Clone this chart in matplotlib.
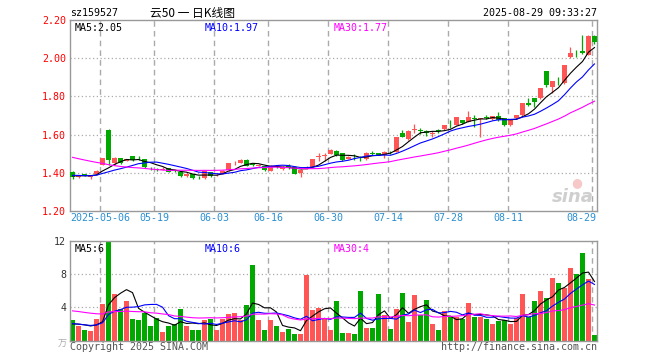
import matplotlib
matplotlib.use('Agg')
import matplotlib.pyplot as plt
import numpy as np

# daily candles 2025-04-24 .. 2025-08-29
open_p = [1.405, 1.380, 1.391, 1.378, 1.392, 1.441, 1.626, 1.450, 1.476, 1.463,
          1.488, 1.479, 1.471, 1.425, 1.418, 1.416, 1.424, 1.412, 1.406, 1.384,
          1.394, 1.378, 1.372, 1.404, 1.386, 1.396, 1.413, 1.449, 1.452, 1.467,
          1.445, 1.438, 1.437, 1.411, 1.431, 1.420, 1.433, 1.432, 1.397, 1.420,
          1.432, 1.482, 1.490, 1.498, 1.516, 1.502, 1.472, 1.484, 1.478, 1.471,
          1.503, 1.503, 1.493, 1.509, 1.510, 1.607, 1.575, 1.626, 1.622, 1.621,
          1.605, 1.621, 1.628, 1.656, 1.650, 1.676, 1.668, 1.686, 1.683, 1.691,
          1.680, 1.700, 1.685, 1.650, 1.685, 1.703, 1.767, 1.790, 1.790, 1.933,
          1.850, 1.878, 1.869, 2.005, 2.022, 2.038, 2.017, 2.118]
high_p = [1.408, 1.390, 1.396, 1.388, 1.415, 1.480, 1.628, 1.485, 1.478, 1.474,
          1.490, 1.487, 1.474, 1.430, 1.423, 1.428, 1.426, 1.416, 1.408, 1.398,
          1.396, 1.382, 1.415, 1.406, 1.394, 1.413, 1.452, 1.462, 1.470, 1.470,
          1.450, 1.446, 1.440, 1.440, 1.434, 1.433, 1.445, 1.434, 1.420, 1.435,
          1.473, 1.503, 1.505, 1.522, 1.518, 1.505, 1.488, 1.497, 1.488, 1.508,
          1.512, 1.506, 1.514, 1.515, 1.590, 1.622, 1.622, 1.656, 1.634, 1.624,
          1.620, 1.628, 1.652, 1.675, 1.692, 1.678, 1.725, 1.702, 1.688, 1.703,
          1.700, 1.718, 1.688, 1.679, 1.705, 1.766, 1.790, 1.792, 1.845, 1.935,
          1.882, 1.900, 1.966, 2.060, 2.045, 2.120, 2.120, 2.120]
low_p = [1.370, 1.375, 1.382, 1.370, 1.388, 1.440, 1.443, 1.440, 1.448, 1.462,
         1.462, 1.468, 1.425, 1.415, 1.410, 1.413, 1.404, 1.404, 1.378, 1.380,
         1.370, 1.370, 1.368, 1.380, 1.382, 1.392, 1.410, 1.440, 1.449, 1.434,
         1.437, 1.434, 1.411, 1.408, 1.424, 1.417, 1.418, 1.392, 1.376, 1.418,
         1.430, 1.462, 1.462, 1.496, 1.490, 1.463, 1.470, 1.465, 1.462, 1.469,
         1.493, 1.492, 1.478, 1.500, 1.508, 1.585, 1.573, 1.610, 1.604, 1.593,
         1.590, 1.610, 1.625, 1.632, 1.648, 1.657, 1.666, 1.640, 1.587, 1.680,
         1.677, 1.672, 1.645, 1.646, 1.680, 1.700, 1.750, 1.745, 1.788, 1.848,
         1.818, 1.858, 1.866, 2.003, 2.005, 2.022, 2.015, 2.074]
close_p = [1.378, 1.385, 1.389, 1.383, 1.412, 1.479, 1.466, 1.480, 1.453, 1.471,
           1.467, 1.477, 1.428, 1.423, 1.416, 1.422, 1.406, 1.410, 1.382, 1.396,
           1.375, 1.376, 1.412, 1.383, 1.391, 1.410, 1.450, 1.451, 1.467, 1.437,
           1.443, 1.441, 1.414, 1.437, 1.429, 1.430, 1.431, 1.395, 1.417, 1.432,
           1.471, 1.486, 1.494, 1.519, 1.493, 1.467, 1.484, 1.482, 1.476, 1.505,
           1.500, 1.494, 1.509, 1.507, 1.589, 1.589, 1.620, 1.630, 1.620, 1.607,
           1.608, 1.619, 1.650, 1.654, 1.690, 1.660, 1.690, 1.684, 1.686, 1.689,
           1.697, 1.676, 1.650, 1.676, 1.702, 1.764, 1.753, 1.772, 1.842, 1.860,
           1.880, 1.874, 1.964, 2.029, 2.020, 2.026, 2.118, 2.086]
volume = [2.52, 1.80, 1.32, 1.20, 2.64, 4.44, 11.92, 5.64, 3.84, 4.80,
          2.64, 2.52, 3.32, 1.72, 2.76, 1.08, 1.72, 1.99, 3.84, 1.72,
          1.32, 1.32, 2.52, 2.64, 1.32, 2.64, 3.24, 3.36, 2.52, 4.32,
          9.12, 2.44, 1.32, 2.52, 1.80, 1.08, 1.44, 0.84, 0.84, 7.92,
          3.72, 3.96, 2.72, 1.32, 4.80, 0.92, 0.92, 0.84, 6.00, 1.56,
          1.56, 5.64, 3.12, 1.44, 3.84, 5.76, 2.28, 5.52, 3.04, 4.92,
          2.04, 1.32, 3.60, 2.84, 2.84, 2.60, 4.56, 2.84, 2.84, 2.64,
          2.04, 2.32, 2.44, 2.04, 2.72, 5.64, 2.84, 4.80, 6.00, 5.16,
          7.56, 6.88, 6.36, 8.76, 8.04, 10.56, 7.44, 0.72]

# sessions before the window, estimated from where the moving averages start
hist_close = [1.60, 1.59, 1.58, 1.59, 1.64, 1.66, 1.64, 1.58, 1.56, 1.55,
              1.53, 1.51, 1.52, 1.50, 1.49, 1.48, 1.37, 1.38, 1.40, 1.39,
              1.39, 1.40, 1.39, 1.38, 1.39, 1.38, 1.39, 1.38, 1.39]
hist_volume = [4.1, 4.5, 3.9, 4.8, 5.3, 4.4, 4.2, 3.8, 3.5, 3.9,
               3.3, 3.7, 5.1, 4.2, 4.0, 3.8, 7.1, 5.5, 4.3, 3.4,
               2.4, 2.2, 1.9, 2.1, 1.8, 2.0, 1.7, 1.9, 2.0]

date_index = [5, 14, 24, 33, 43, 53, 63, 73, 87]
date_labels = ['2025-05-06', '05-19', '06-03', '06-16', '06-30',
               '07-14', '07-28', '08-11', '08-29']

RED = '#FF5555'
GREEN = '#00A800'
MONO = 'DejaVu Sans Mono'
CJK = ['Noto Sans CJK SC', 'DejaVu Sans']


def moving_avg(values, hist, n):
    full = np.array(hist + values, dtype=float)
    ma = np.convolve(full, np.ones(n) / n, mode='valid')
    return ma[-len(values):]


W, H = 660, 360
fig = plt.figure(figsize=(6.6, 3.6), dpi=100)


def px_axes(left, top, right, bottom):
    return fig.add_axes([left / W, 1 - bottom / H, (right - left) / W, (bottom - top) / H])


ax = px_axes(70.3, 20, 596.7, 211)
axv = px_axes(70.3, 240.7, 596.7, 340.7)

x = np.arange(len(close_p))
colors = [RED if c >= o else GREEN for o, c in zip(open_p, close_p)]

for a in (ax, axv):
    a.set_xlim(-0.37, len(x) - 1 + 0.37)
    for s in a.spines.values():
        s.set_color('#999999')
        s.set_linewidth(1)
    a.tick_params(length=0, pad=3)
    a.set_xticks([])
    for d in date_index:
        a.axvline(d - 0.37, color='#AAAAAA', lw=1, ls=(0, (4, 3)), zorder=0)

# price panel
ax.set_ylim(1.2, 2.2)
for lvl in [1.4, 1.6, 1.8, 2.0]:
    ax.axhline(lvl, color='#AAAAAA', lw=0.9, ls=(0, (1, 2)), zorder=0)
ax.set_yticks([1.2, 1.4, 1.6, 1.8, 2.0, 2.2])
ax.set_yticklabels(['%.2f' % v for v in [1.2, 1.4, 1.6, 1.8, 2.0, 2.2]],
                   color='#FF0000', fontsize=7.2, family=MONO)

# watermark
ax.text(0.955, 0.075, 'sina', transform=ax.transAxes, fontsize=13, style='italic',
        fontweight='bold', color='#CFCFCF', ha='center', va='center', zorder=0)
ax.text(0.962, 0.15, '●', transform=ax.transAxes, fontsize=9,
        color='#F6C8C8', ha='center', va='center', zorder=0)

ax.vlines(x, low_p, high_p, colors=colors, lw=0.9, zorder=2)
bottoms = np.minimum(open_p, close_p)
heights = np.maximum(np.abs(np.array(close_p) - np.array(open_p)), 0.003)
ax.bar(x, heights, bottom=bottoms, width=0.8, color=colors, lw=0, zorder=3)

ax.plot(x, moving_avg(close_p, hist_close, 5), color='black', lw=0.8, zorder=4)
ax.plot(x, moving_avg(close_p, hist_close, 10), color='#0000FF', lw=0.8, zorder=4)
ax.plot(x, moving_avg(close_p, hist_close, 30), color='#FF00FF', lw=0.8, zorder=4)

ax.text(0.008, 0.985, 'MA5:2.05', transform=ax.transAxes, color='black',
        fontsize=7.2, family=MONO, va='top')
ax.text(0.256, 0.985, 'MA10:1.97', transform=ax.transAxes, color='#0000FF',
        fontsize=7.2, family=MONO, va='top')
ax.text(0.501, 0.985, 'MA30:1.77', transform=ax.transAxes, color='#FF00FF',
        fontsize=7.2, family=MONO, va='top')

# date labels under the price panel
for d, lab in zip(date_index, date_labels):
    if d == date_index[-1]:
        ax.text(len(x) - 1 + 0.37, 1.2 - 0.035, lab, ha='right', va='center',
                color='#2A8FD0', fontsize=7.2, family=MONO)
    else:
        ax.text(d - 0.37, 1.2 - 0.035, lab, ha='center', va='center',
                color='#2A8FD0', fontsize=7.2, family=MONO)

# volume panel
axv.set_ylim(0, 12)
for lvl in [4, 8]:
    axv.axhline(lvl, color='#AAAAAA', lw=0.9, ls=(0, (1, 2)), zorder=0)
axv.set_yticks([4, 8, 12])
axv.set_yticklabels(['4', '8', '12'], color='#333333', fontsize=7.2, family=MONO)
axv.bar(x, volume, width=0.83, color=colors, lw=0, zorder=2)
axv.plot(x, moving_avg(volume, hist_volume, 5), color='black', lw=0.8, zorder=4)
axv.plot(x, moving_avg(volume, hist_volume, 10), color='#0000FF', lw=0.8, zorder=4)
axv.plot(x, moving_avg(volume, hist_volume, 30), color='#FF00FF', lw=0.8, zorder=4)
axv.text(0.008, 0.97, 'MA5:6', transform=axv.transAxes, color='black',
         fontsize=7.2, family=MONO, va='top')
axv.text(0.256, 0.97, 'MA10:6', transform=axv.transAxes, color='#0000FF',
         fontsize=7.2, family=MONO, va='top')
axv.text(0.501, 0.97, 'MA30:4', transform=axv.transAxes, color='#FF00FF',
         fontsize=7.2, family=MONO, va='top')

# header and footer
fig.text(70 / W, 1 - 13 / H, 'sz159527', fontsize=7.2, family=MONO, va='center')
fig.text(150 / W, 1 - 13 / H, '云50 一 日K线图', fontsize=8.5, family=CJK, va='center')
fig.text(597 / W, 1 - 13 / H, '2025-08-29 09:33:27', fontsize=7.2, family=MONO,
         va='center', ha='right')
fig.text(70 / W, 1 - 347 / H, 'Copyright 2025 SINA.COM', fontsize=7.2, family=MONO,
         va='center', color='#555555')
fig.text(597 / W, 1 - 347 / H, 'http://finance.sina.com.cn', fontsize=7.2, family=MONO,
         va='center', ha='right', color='#555555')
fig.text(58 / W, 1 - 344 / H, '万', fontsize=6.5, family=CJK, va='center', color='#AAAAAA')

fig.savefig('out.png', dpi=100)
